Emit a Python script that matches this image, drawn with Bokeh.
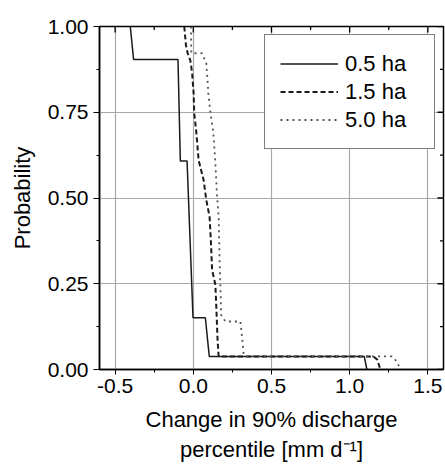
from bokeh.plotting import figure
from bokeh.models import (Range1d, FixedTicker, PrintfTickFormatter,
                          Legend, LegendItem)
from bokeh.embed import file_html
from bokeh.resources import INLINE

# ---- data ----
x_05 = [-0.403, -0.382, -0.098, -0.083, -0.040, -0.002, 0.077, 0.102, 1.093, 1.11]
p_05 = [1.0, 0.904, 0.904, 0.608, 0.608, 0.151, 0.151, 0.038, 0.038, 0.0]

x_15 = [-0.058, -0.047, -0.036, -0.019, -0.008, 0.002, 0.006, 0.019, 0.034, 0.066,
        0.083, 0.104, 0.113, 0.120, 0.141, 0.147, 0.155, 0.162, 1.093, 1.151, 1.176, 1.196]
p_15 = [1.0, 0.945, 0.922, 0.901, 0.866, 0.805, 0.747, 0.692, 0.610, 0.552,
        0.494, 0.445, 0.369, 0.291, 0.247, 0.183, 0.087, 0.038, 0.038, 0.038, 0.029, 0.0]

x_50 = [-0.015, -0.013, 0.056, 0.083, 0.090, 0.096, 0.109, 0.128, 0.141, 0.152, 0.162,
        0.168, 0.177, 0.177, 0.205, 0.301, 0.311, 0.322, 0.332, 1.228, 1.27, 1.30, 1.325]
p_50 = [1.0, 0.922, 0.922, 0.892, 0.849, 0.805, 0.750, 0.692, 0.602, 0.503, 0.445,
        0.320, 0.183, 0.160, 0.140, 0.140, 0.097, 0.044, 0.038, 0.038, 0.038, 0.024, 0.0]

labels = ["0.5 ha", "1.5 ha", "5.0 ha"]
x_ticks = [-0.5, 0.0, 0.5, 1.0, 1.5]
x_minor = [-0.25, 0.25, 0.75, 1.25]
y_ticks = [0.0, 0.25, 0.5, 0.75, 1.0]
y_minor = [0.125, 0.375, 0.625, 0.875]

X_MIN, X_MAX = -0.6, 1.6
Y_MIN, Y_MAX = 0.0, 1.0
FONT = "Liberation Sans"

p = figure(output_backend="svg", toolbar_location=None,
           width=445, height=464,
           min_border_left=99, min_border_right=2, min_border_top=26, min_border_bottom=94,
           x_range=Range1d(X_MIN, X_MAX), y_range=Range1d(Y_MIN, Y_MAX))
p.background_fill_color = "white"
p.border_fill_color = "white"
p.outline_line_color = "black"
p.outline_line_width = 1.5

for ax in (p.xaxis[0], p.yaxis[0]):
    ax.axis_line_color = "black"
    ax.axis_line_width = 1.5
    ax.major_tick_line_color = "black"
    ax.minor_tick_line_color = "black"
    ax.major_tick_in = 0
    ax.minor_tick_in = 0
    ax.major_label_text_font = FONT
    ax.major_label_text_color = "black"
    ax.axis_label_text_font = FONT
    ax.axis_label_text_font_style = "normal"
    ax.axis_label_text_color = "black"

p.xaxis.ticker = FixedTicker(ticks=x_ticks, minor_ticks=x_minor)
p.yaxis.ticker = FixedTicker(ticks=y_ticks, minor_ticks=y_minor)
p.xaxis.formatter = PrintfTickFormatter(format="%.1f")
p.yaxis.formatter = PrintfTickFormatter(format="%.2f")
p.xaxis.major_tick_out = 5
p.xaxis.minor_tick_out = 3
p.yaxis.major_tick_out = 6
p.yaxis.minor_tick_out = 3
p.xaxis.major_label_text_font_size = "21px"
p.yaxis.major_label_text_font_size = "21px"
p.xaxis.major_label_standoff = 4
p.yaxis.major_label_standoff = 5
p.xaxis.axis_label = "Change in 90% discharge\npercentile [mm d\u207b\u00b9]"
p.yaxis.axis_label = "Probability"
p.xaxis.axis_label_text_font_size = "22px"
p.yaxis.axis_label_text_font_size = "22px"
p.xaxis.axis_label_standoff = 11
p.yaxis.axis_label_standoff = 10

p.xgrid.ticker = FixedTicker(ticks=x_ticks)
p.ygrid.ticker = FixedTicker(ticks=y_ticks)
p.grid.grid_line_color = "#a8a8a8"
p.grid.grid_line_width = 1.2

# inward ticks on the top and right frame edges (clipped to the frame)
p.scatter(x_ticks, [Y_MAX] * len(x_ticks), marker="dash", angle=1.5708, size=12,
          line_color="black", line_width=1.3)
p.scatter(x_minor, [Y_MAX] * len(x_minor), marker="dash", angle=1.5708, size=7,
          line_color="black", line_width=1.3)
p.scatter([X_MAX] * len(y_ticks), y_ticks, marker="dash", size=12,
          line_color="black", line_width=1.3)
p.scatter([X_MAX] * len(y_minor), y_minor, marker="dash", size=7,
          line_color="black", line_width=1.3)

r1 = p.line(x_05, p_05, line_color="#1a1a1a", line_width=1.5)
r2 = p.line(x_15, p_15, line_color="#1a1a1a", line_width=2, line_dash="5 3")
r3 = p.line(x_50, p_50, line_color="#555555", line_width=1.8, line_dash="2 4")

legend = Legend(items=[LegendItem(label=labels[0], renderers=[r1]),
                       LegendItem(label=labels[1], renderers=[r2]),
                       LegendItem(label=labels[2], renderers=[r3])],
                location=(165, 220))
legend.label_text_font = FONT
legend.label_text_font_size = "22px"
legend.label_text_color = "black"
legend.padding = 15
legend.spacing = 1
legend.label_height = 27
legend.glyph_height = 27
legend.glyph_width = 58
legend.label_standoff = 7
legend.label_width = 74
legend.margin = 0
legend.border_line_color = "black"
legend.border_line_width = 1.8
legend.background_fill_color = "white"
legend.background_fill_alpha = 1.0
p.add_layout(legend, "center")

open("out.html", "w").write(file_html(p, INLINE))
